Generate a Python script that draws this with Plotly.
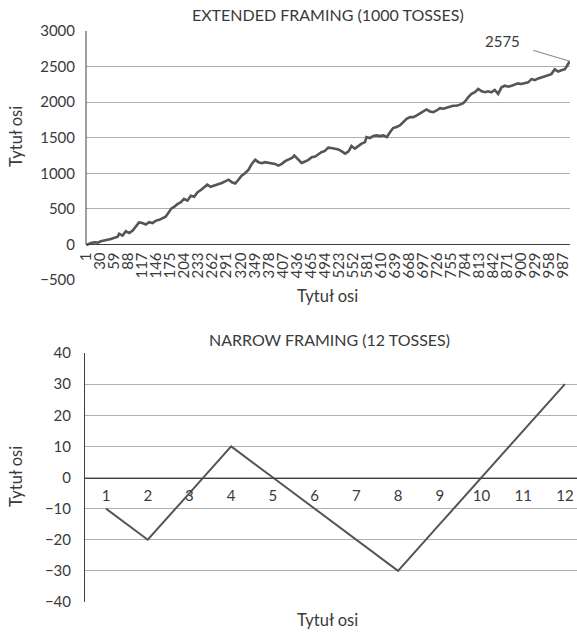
import plotly.graph_objects as go

W, H = 577, 632

# ---- data: extended framing (1000 tosses), cumulative total
ext_toss = [1, 5, 11, 18, 25, 31, 38, 45, 52, 59,
            66, 69, 76, 83, 90, 97, 104, 110, 117, 124,
            131, 138, 145, 152, 159, 165, 172, 176, 183, 190,
            196, 203, 210, 217, 224, 231, 238, 245, 251, 258,
            265, 272, 281, 288, 295, 302, 309, 315, 322, 329,
            336, 343, 350, 357, 364, 370, 377, 384, 391, 398,
            405, 412, 419, 426, 431, 439, 446, 453, 460, 467,
            474, 480, 487, 494, 501, 508, 515, 522, 529, 536,
            543, 549, 556, 563, 570, 577, 580, 587, 594, 601,
            608, 615, 622, 629, 635, 642, 649, 656, 663, 670,
            677, 684, 690, 697, 704, 711, 718, 725, 732, 739,
            745, 752, 759, 766, 773, 780, 786, 790, 797, 804,
            811, 818, 825, 831, 838, 845, 852, 859, 866, 873,
            880, 887, 893, 900, 907, 914, 921, 928, 935, 942,
            948, 955, 962, 969, 976, 983, 990, 993, 1000]
ext_total = [-10, 5, 20, 30, 25, 45, 50, 65, 75, 90,
             110, 150, 125, 185, 160, 195, 250, 310, 300, 280,
             313, 300, 335, 345, 370, 390, 455, 500, 530, 570,
             590, 640, 615, 685, 670, 735, 765, 800, 840, 810,
             825, 845, 863, 887, 910, 873, 858, 905, 967, 1000,
             1047, 1132, 1189, 1156, 1142, 1156, 1146, 1132, 1132, 1108,
             1132, 1170, 1189, 1217, 1250, 1189, 1146, 1165, 1189, 1226,
             1236, 1264, 1297, 1315, 1360, 1355, 1345, 1336, 1308, 1276,
             1308, 1383, 1346, 1383, 1416, 1439, 1509, 1495, 1523, 1533,
             1523, 1533, 1509, 1579, 1636, 1650, 1673, 1720, 1766, 1790,
             1790, 1813, 1836, 1869, 1897, 1869, 1860, 1883, 1916, 1907,
             1925, 1935, 1950, 1950, 1965, 1985, 2030, 2069, 2116, 2139,
             2185, 2153, 2139, 2153, 2139, 2171, 2116, 2208, 2231, 2218,
             2231, 2245, 2264, 2255, 2264, 2278, 2324, 2310, 2333, 2347,
             2356, 2370, 2394, 2463, 2431, 2449, 2463, 2495, 2575]
assert len(ext_toss) == len(ext_total)

ext_xticks = [1, 30, 59, 88, 117, 146, 175, 204, 233, 262, 291, 320, 349, 378,
              407, 436, 465, 494, 523, 552, 581, 610, 639, 668, 697, 726, 755,
              784, 813, 842, 871, 900, 929, 958, 987]
ext_yticks = [-500, 0, 500, 1000, 1500, 2000, 2500, 3000]
ext_label = "2575"

# ---- data: narrow framing (12 tosses)
narrow_toss = [1, 2, 3, 4, 5, 6, 7, 8, 9, 10, 11, 12]
narrow_total = [-10, -20, -5, 10, 0, -10, -20, -30, -15, 0, 15, 30]
narrow_yticks = [-40, -30, -20, -10, 0, 10, 20, 30, 40]

title_top = "EXTENDED FRAMING (1000 TOSSES)"
title_bottom = "NARROW FRAMING (12 TOSSES)"
axis_title = "Tytuł osi"

# ---- styling
FONT = "Lato"
FS = 15
TXT = "#3a3a3a"
GRID = "#B0B0B0"
AXIS = "#404040"
LINE = "#555555"


def fx(px):
    return px / W


def fy(py):
    return 1 - py / H


top_ydom = [fy(280), fy(31)]
bot_ydom = [fy(602), fy(353)]
top_rng = [ext_yticks[0], ext_yticks[-1]]
bot_rng = [narrow_yticks[0], narrow_yticks[-1]]
top_zero = top_ydom[0] + (0 - top_rng[0]) / (top_rng[1] - top_rng[0]) * (top_ydom[1] - top_ydom[0])
bot_zero = bot_ydom[0] + (0 - bot_rng[0]) / (bot_rng[1] - bot_rng[0]) * (bot_ydom[1] - bot_ydom[0])

fig = go.Figure()
fig.add_trace(go.Scatter(x=ext_toss, y=ext_total, mode="lines",
                         line=dict(color=LINE, width=2.6), xaxis="x", yaxis="y",
                         showlegend=False, hoverinfo="x+y"))
fig.add_trace(go.Scatter(x=narrow_toss, y=narrow_total, mode="lines",
                         line=dict(color=LINE, width=2), xaxis="x2", yaxis="y2",
                         showlegend=False, hoverinfo="x+y"))

tickfont = dict(family=FONT, size=FS, color=TXT)

fig.update_layout(
    template="none",
    width=W, height=H, autosize=False,
    margin=dict(l=0, r=0, t=0, b=0, pad=0, autoexpand=False),
    paper_bgcolor="white", plot_bgcolor="white",
    font=dict(family=FONT, size=FS, color=TXT),
    xaxis=dict(domain=[fx(86), fx(570)], range=[0.5, 1000.5],
               anchor="free", position=top_zero, automargin=False,
               tickmode="array", tickvals=ext_xticks,
               ticktext=[str(t) for t in ext_xticks],
               tickangle=-90, tickfont=tickfont, ticks="",
               ticklabelstandoff=1,
               showgrid=False, zeroline=False,
               showline=True, linecolor=AXIS, linewidth=1),
    yaxis=dict(domain=top_ydom, range=top_rng, anchor="x", automargin=False,
               tickmode="array", tickvals=ext_yticks, tickfont=tickfont,
               ticks="", ticklabelstandoff=10,
               showgrid=True, gridcolor=GRID, gridwidth=1,
               zeroline=False, showline=False),
    xaxis2=dict(domain=[fx(85), 1], range=[0.496, 12.29],
                anchor="free", position=bot_zero, automargin=False,
                tickmode="array", tickvals=narrow_toss,
                ticktext=[str(t) for t in narrow_toss],
                tickfont=tickfont, ticks="", ticklabelstandoff=4,
                showgrid=False, zeroline=False,
                showline=True, linecolor=AXIS, linewidth=1),
    yaxis2=dict(domain=bot_ydom, range=bot_rng, anchor="x2", automargin=False,
                tickmode="array", tickvals=narrow_yticks, tickfont=tickfont,
                ticks="", ticklabelstandoff=10,
                showgrid=True, gridcolor=GRID, gridwidth=1,
                zeroline=False, showline=True, linecolor=AXIS, linewidth=1),
)

# vertical value-axis line of the top chart (runs from 0 up to the top)
fig.add_shape(type="line", xref="x domain", yref="y", x0=0, x1=0,
              y0=0, y1=top_rng[1], line=dict(color=AXIS, width=1))

# titles
for txt, px, py, ang, fs in [
    (title_top, 328, 14, 0, 16),
    (title_bottom, 330, 339, 0, 16),
    (axis_title, 327, 296, 0, 16.5),
    (axis_title, 327, 620, 0, 16.5),
    (axis_title, 16, 137, -90, 16.5),
    (axis_title, 16, 477, -90, 16.5),
]:
    fig.add_annotation(text=txt, x=fx(px), y=fy(py), xref="paper", yref="paper",
                       xanchor="center", yanchor="middle", textangle=ang,
                       showarrow=False, font=dict(family=FONT, size=fs, color=TXT))

# data label for last point
fig.add_annotation(text=ext_label, x=ext_toss[-1], y=ext_total[-1], xref="x", yref="y",
                   showarrow=True, ax=-67, ay=-20, arrowhead=0, arrowwidth=1,
                   arrowcolor="#808080", startstandoff=12,
                   font=dict(family=FONT, size=FS, color=TXT))

fig.write_html(
    "out.html",
    config={"displayModeBar": False},
    post_script="document.body.style.margin='0';document.body.style.overflow='hidden';",
)
